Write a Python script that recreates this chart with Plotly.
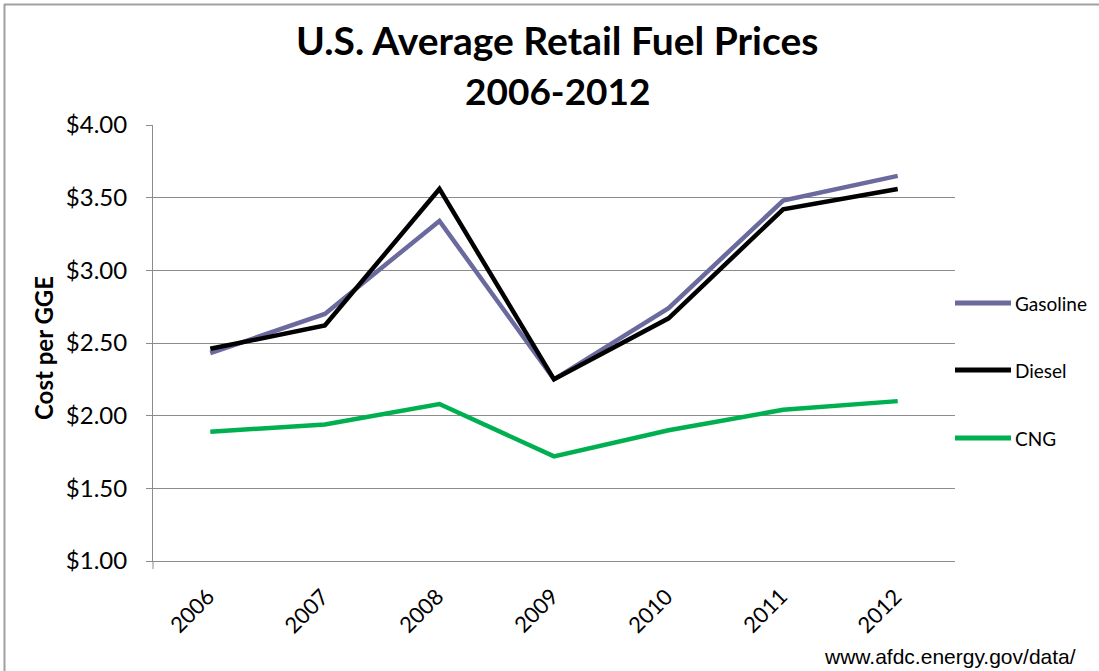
import plotly.graph_objects as go

years = ["2006", "2007", "2008", "2009", "2010", "2011", "2012"]
gasoline = [2.43, 2.70, 3.34, 2.25, 2.74, 3.48, 3.65]
diesel = [2.46, 2.62, 3.56, 2.25, 2.67, 3.42, 3.56]
cng = [1.89, 1.94, 2.08, 1.72, 1.90, 2.04, 2.10]

series = [
    ("Gasoline", gasoline, "#6A6A9E"),
    ("Diesel", diesel, "#000000"),
    ("CNG", cng, "#00B050"),
]

FONT = "Lato"
fig = go.Figure()
for i, (name, vals, color) in enumerate(series):
    fig.add_trace(go.Scatter(
        x=list(range(len(years))), y=vals, name=name, mode="lines",
        line=dict(color=color, width=4.5), showlegend=False,
    ))

grid = "#8C8C8C"
fig.update_layout(
    width=1099, height=671,
    margin=dict(l=153, r=144, t=125, b=110),
    paper_bgcolor="white", plot_bgcolor="white",
    font=dict(family=FONT, color="black"),
    showlegend=False,
    xaxis=dict(
        range=[-0.5, 6.5], tickmode="array",
        tickvals=list(range(len(years))), ticktext=years,
        showticklabels=False,
        showgrid=False, showline=True, linecolor=grid, linewidth=1,
        ticks="", zeroline=False,
    ),
    yaxis=dict(
        range=[1, 4], dtick=0.5, tickformat="$.2f",
        tickfont=dict(size=24, family=FONT),
        showgrid=True, gridcolor=grid, gridwidth=1,
        showline=True, linecolor=grid, linewidth=1,
        ticks="outside", ticklen=6, tickcolor=grid,
        ticklabelstandoff=14, zeroline=False,
    ),
)

def px_x(px):
    return (px - 153) / 802.0

def px_y(py):
    return (561 - py) / 436.0

# rotated category labels
for i, yr in enumerate(years):
    fig.add_annotation(text=yr, x=i, xref="x", y=0, yref="paper",
                       xshift=-19, yshift=-49, textangle=-45, showarrow=False,
                       font=dict(size=22, family=FONT),
                       xanchor="center", yanchor="middle")

fig.add_annotation(text="<b>U.S. Average Retail Fuel Prices</b>", x=px_x(557), y=px_y(40),
                   xref="paper", yref="paper", showarrow=False,
                   font=dict(size=39, family=FONT), xanchor="center", yanchor="middle")
fig.add_annotation(text="<b>2006-2012</b>", x=px_x(557), y=px_y(91),
                   xref="paper", yref="paper", showarrow=False,
                   font=dict(size=37, family=FONT), xanchor="center", yanchor="middle")
fig.add_annotation(text="<b>Cost per GGE</b>", x=px_x(43), y=px_y(348),
                   xref="paper", yref="paper", showarrow=False, textangle=-90,
                   font=dict(size=24, family=FONT), xanchor="center", yanchor="middle")
fig.add_annotation(text="www.afdc.energy.gov/data/", x=px_x(1078), y=px_y(656),
                   xref="paper", yref="paper", showarrow=False,
                   font=dict(size=21, family="Liberation Sans"), xanchor="right", yanchor="middle")

# legend drawn manually (long line samples like the reference)
legend_y = [303, 370, 438]
for (name, vals, color), ly in zip(series, legend_y):
    fig.add_shape(type="line", xref="paper", yref="paper",
                  x0=px_x(955), x1=px_x(1011), y0=px_y(ly), y1=px_y(ly),
                  line=dict(color=color, width=5))
    fig.add_annotation(text=name, x=px_x(1013), y=px_y(ly), xref="paper", yref="paper",
                       showarrow=False, font=dict(size=19, family=FONT),
                       xanchor="left", yanchor="middle")

# short extension of the value axis below the category axis
fig.add_shape(type="line", xref="paper", yref="paper",
              x0=0, x1=0, y0=0, y1=px_y(569),
              line=dict(color=grid, width=1))

border = "#A0A0A0"
fig.add_shape(type="line", xref="paper", yref="paper",
              x0=px_x(4), x1=px_x(1110), y0=px_y(4.5), y1=px_y(4.5),
              line=dict(color=border, width=2))
fig.add_shape(type="line", xref="paper", yref="paper",
              x0=px_x(4.5), x1=px_x(4.5), y0=px_y(4), y1=px_y(680),
              line=dict(color=border, width=2))

fig.write_html("out.html", post_script="document.body.style.margin='0';",
               config={"displayModeBar": False})
